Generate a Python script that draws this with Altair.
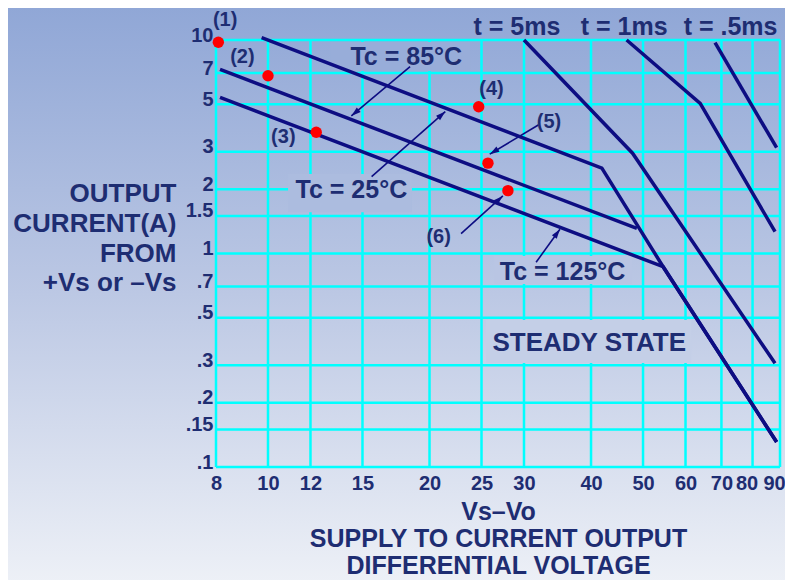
import math
import altair as alt
import pandas as pd

# ---------------- data ----------------
x_ticks = [8, 10, 12, 15, 20, 25, 30, 40, 50, 60, 70, 80, 90]
y_ticks = [0.1, 0.15, 0.2, 0.3, 0.5, 0.7, 1, 1.5, 2, 3, 5, 7, 10]

tc85_x = [9.73, 41.9, 54.5, 88.7]
tc85_y = [10.25, 2.51, 0.867, 0.131]
tc25_x = [8.14, 48.7]
tc25_y = [7.29, 1.31]
tc125_x = [8.14, 54.5, 88.7]
tc125_y = [5.39, 0.867, 0.131]
t5_x = [30.0, 47.8, 88.1]
t5_y = [10.0, 2.95, 0.306]
t1_x = [46.6, 63.9, 88.1]
t1_y = [10.0, 5.05, 1.265]
t05_x = [68.1, 88.7]
t05_y = [9.71, 3.13]

pt_labels = ["(1)", "(2)", "(3)", "(4)", "(5)", "(6)"]
pt_x = [8.08, 10.0, 12.3, 24.7, 25.7, 28.0]
pt_y = [9.76, 6.8, 3.7, 4.87, 2.65, 1.97]
ptlab_x = [8.32, 8.96, 10.68, 26.1, 33.4, 20.8]
ptlab_y = [12.4, 8.3, 3.5, 5.88, 4.14, 1.2]

ann_text = ["Tc = 85°C", "Tc = 25°C", "Tc = 125°C", "STEADY STATE",
            "t = 5ms", "t = 1ms", "t = .5ms"]
ann_x = [18.1, 14.3, 35.4, 39.7, 29.1, 46.1, 72.8]
ann_y = [8.35, 1.98, 0.822, 0.382, 11.55, 11.55, 11.55]
ann_fs = [25, 25, 25, 26, 25, 25, 25]

# label backgrounds that interrupt the grid (data extents)
mask_x1 = [13.05, 10.9, 26.4, 25.5]
mask_x2 = [23.8, 18.55, 47.7, 61.5]
mask_y1 = [7.16, 1.56, 0.72, 0.307]
mask_y2 = [9.79, 2.36, 0.973, 0.488]

arrow_x1 = [18.4, 15.6, 31.6, 31.9, 22.9]
arrow_y1 = [7.5, 2.29, 0.91, 4.0, 1.24]
arrow_x2 = [14.3, 21.4, 35.0, 25.9, 27.4]
arrow_y2 = [4.41, 4.62, 1.30, 2.92, 1.86]

y_title = ["OUTPUT", "CURRENT(A)", "FROM", "+Vs or  \u2013Vs"]
x_title = ["Vs\u2013Vo", "SUPPLY TO CURRENT OUTPUT", "DIFFERENTIAL VOLTAGE"]

# ---------------- style ----------------
W, H = 564, 427
FONT = "Liberation Sans"
TXT = "#1e2d72"
NAVY = "#0d0d82"
CYAN = "#00ffff"
MASK_COLORS = ["#98add9", "#acbcdf", "#b9c5e3", "#c4cfe7"]

xscale = alt.Scale(type="log", domain=[8, 90], nice=False)
yscale = alt.Scale(type="log", domain=[0.1, 10], nice=False)

# ---------------- tables ----------------
series = [("85", tc85_x, tc85_y), ("25", tc25_x, tc25_y), ("125", tc125_x, tc125_y),
          ("5ms", t5_x, t5_y), ("1ms", t1_x, t1_y), ("05ms", t05_x, t05_y)]
rows = []
for name, xs, ys in series:
    for i, (a, b) in enumerate(zip(xs, ys)):
        rows.append({"s": name, "i": i, "x": a, "y": b})
lines_df = pd.DataFrame(rows)

pts_df = pd.DataFrame({"x": pt_x, "y": pt_y})
ptlab_df = pd.DataFrame({"x": ptlab_x, "y": ptlab_y, "t": pt_labels})
ann_df = pd.DataFrame({"x": ann_x, "y": ann_y, "t": ann_text, "fs": ann_fs})
mask_df = pd.DataFrame({"x": mask_x1, "x2": mask_x2, "y": mask_y1, "y2": mask_y2,
                        "c": MASK_COLORS})


def px(v):
    return W * (math.log10(v) - math.log10(8)) / math.log10(90 / 8)


def py(v):
    return H * (1 - math.log10(v)) / 2


angles = []
for a1, b1, a2, b2 in zip(arrow_x1, arrow_y1, arrow_x2, arrow_y2):
    dx = px(a2) - px(a1)
    dy = py(b2) - py(b1)
    angles.append(math.degrees(math.atan2(dx, -dy)) % 360)
arr_df = pd.DataFrame({"x": arrow_x1, "y": arrow_y1, "x2": arrow_x2, "y2": arrow_y2,
                       "ang": angles})

# ---------------- axes ----------------
xaxis = alt.Axis(
    values=x_ticks, labelExpr="toString(datum.value)", grid=False, domain=False,
    ticks=False, tickSize=0, labelFontSize=20, labelFont=FONT, labelFontWeight="bold",
    labelColor=TXT, labelPadding=6, labelFlush=False, labelOverlap=False,
    labelOffset={"condition": {"test": "datum.value >= 80", "value": -6}, "value": 0},
    title=x_title, titleFont=FONT, titleFontSize=25, titleFontWeight="bold",
    titleColor=TXT, titleBaseline="alphabetic", titleY=52, titleLineHeight=27,
    zindex=1)

yaxis = alt.Axis(
    values=y_ticks,
    labelExpr="datum.value < 1 ? slice(toString(datum.value), 1) : toString(datum.value)",
    grid=False, domain=False, ticks=False, tickSize=0, labelFontSize=20, labelFont=FONT,
    labelFontWeight="bold", labelColor=TXT, labelPadding=3, labelOffset=-5,
    labelBaseline="middle", labelFlush=False, labelOverlap=False,
    title=y_title, titleFont=FONT, titleFontSize=26, titleFontWeight="bold",
    titleColor=TXT, titleAngle=0, titleAlign="right", titleBaseline="alphabetic",
    titleX=-40, titleY=161.5, titleLineHeight=29.8, zindex=1)


def X(field):
    return alt.X(field, scale=xscale, axis=xaxis)


def Y(field):
    return alt.Y(field, scale=yscale, axis=yaxis)


# ---------------- layers ----------------
grad = alt.LinearGradient(
    gradient="linear",
    stops=[alt.GradientStop(color="#8fa6d6", offset=0),
           alt.GradientStop(color="#bcc8e4", offset=0.5),
           alt.GradientStop(color="#eef1f7", offset=1)],
    x1=0, x2=0, y1=0, y2=1)

bg = alt.Chart(alt.Data(values=[{"a": 1}])).mark_rect(color=grad).encode(
    x=alt.value(-216), x2=alt.value(W + 14), y=alt.value(-40), y2=alt.value(H + 121))

vgrid = alt.Chart(pd.DataFrame({"x": x_ticks})).mark_rule(
    color=CYAN, strokeWidth=2.5).encode(x=X("x:Q"))

hgrid = alt.Chart(pd.DataFrame({"y": y_ticks})).mark_rule(
    color=CYAN, strokeWidth=2.5).encode(y=Y("y:Q"))

masks = alt.Chart(mask_df).mark_rect(opacity=1).encode(
    x=X("x:Q"), x2="x2:Q", y=Y("y:Q"), y2="y2:Q",
    color=alt.Color("c:N", scale=None))

lines = alt.Chart(lines_df).mark_line(color=NAVY, strokeWidth=3.5).encode(
    x=X("x:Q"), y=Y("y:Q"), detail="s:N", order="i:Q")

arrows = alt.Chart(arr_df).mark_rule(color=NAVY, strokeWidth=1.6).encode(
    x=X("x:Q"), y=Y("y:Q"), x2="x2:Q", y2="y2:Q")

heads = alt.Chart(arr_df).mark_point(
    shape="M0,0L0.5,1.6L-0.5,1.6Z", filled=True, opacity=1, color=NAVY,
    strokeWidth=0).encode(
    x=X("x2:Q"), y=Y("y2:Q"),
    angle=alt.Angle("ang:Q", scale=None),
    size=alt.value(144))

dots = alt.Chart(pts_df).mark_circle(color="#ff0000", size=130, opacity=1).encode(
    x=X("x:Q"), y=Y("y:Q"))

ptlabels = alt.Chart(ptlab_df).mark_text(
    font=FONT, fontWeight="bold", fontSize=20, color=TXT,
    align="center", baseline="middle").encode(
    x=X("x:Q"), y=Y("y:Q"), text="t:N")

anns = alt.Chart(ann_df).mark_text(
    font=FONT, fontWeight="bold", color=TXT, align="center", baseline="middle").encode(
    x=X("x:Q"), y=Y("y:Q"),
    text="t:N", size=alt.Size("fs:Q", scale=None))

chart = alt.layer(bg, vgrid, hgrid, masks, lines, arrows, heads, dots, ptlabels,
                  anns).properties(
    width=W, height=H,
    padding={"left": 208, "top": 32, "right": 5, "bottom": 113},
    autosize=alt.AutoSizeParams(type="none"),
    background="#eef1f7",
).configure_view(stroke=None)

chart.save("out.html", embed_options={"renderer": "svg", "actions": False})
